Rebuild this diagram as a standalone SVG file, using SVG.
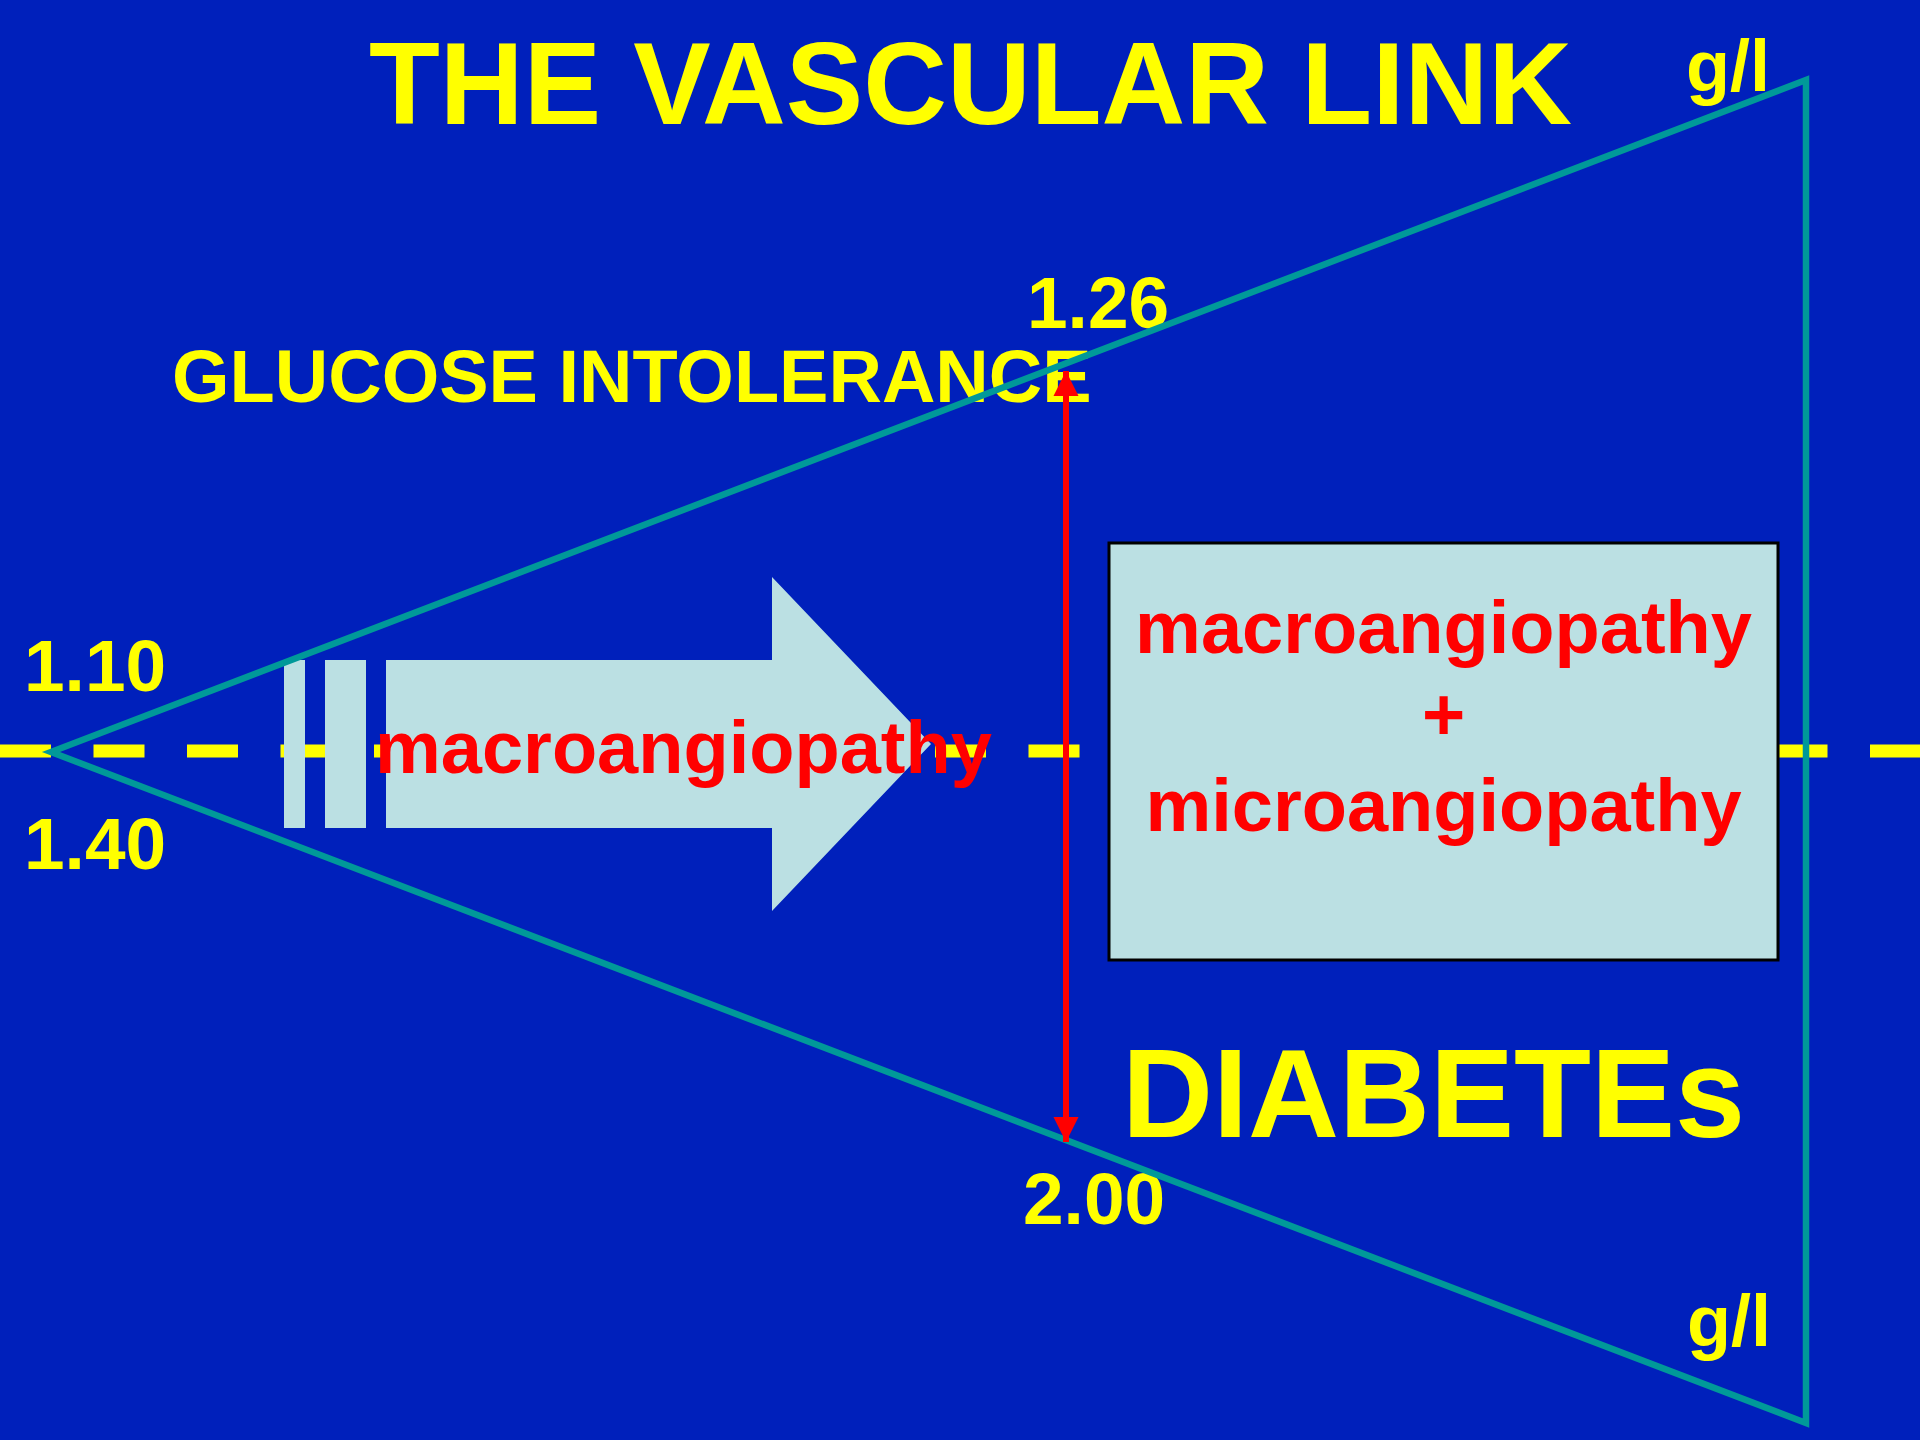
<svg xmlns="http://www.w3.org/2000/svg" width="1920" height="1440" viewBox="0 0 1920 1440">
<style>
.t{font-family:"Liberation Sans",Arial,sans-serif;font-weight:bold;}
.y{fill:#FFFF00;}
.r{fill:#FF0000;}
</style>
<defs>
<marker id="ah" viewBox="0 0 10 10" refX="10" refY="5" markerWidth="4.2" markerHeight="4.2" markerUnits="strokeWidth" orient="auto-start-reverse">
<path d="M0,0 L10,5 L0,10 z" fill="#FF0000"/>
</marker>
</defs>
<rect width="1920" height="1440" fill="#0020BB"/>
<g id="baseline">
<line x1="0" y1="751" x2="1920" y2="751" stroke="#FFFF00" stroke-width="13" stroke-dasharray="51 42.5"/>
</g>
<g id="arrow-macro">
<rect x="284" y="660" width="21" height="168" fill="#BBE0E3"/>
<rect x="325" y="660" width="41" height="168" fill="#BBE0E3"/>
<polygon points="386,660 772,660 772,577 931,744 772,911 772,828 386,828" fill="#BBE0E3"/>
<text class="t r" x="375" y="773" font-size="74">macroangiopathy</text>
</g>
<g id="box">
<rect x="1109" y="543" width="669" height="417" fill="#BBE0E3" stroke="#000" stroke-width="3"/>
<text class="t r" x="1443.5" y="653" font-size="74" text-anchor="middle">macroangiopathy</text>
<text class="t r" x="1443.5" y="740" font-size="74" text-anchor="middle">+</text>
<text class="t r" x="1443.5" y="831" font-size="74" text-anchor="middle">microangiopathy</text>
</g>
<g id="labels">
<text class="t y" x="369" y="124" font-size="116">THE VASCULAR LINK</text>
<text class="t y" x="1686" y="91" font-size="72">g/l</text>
<text class="t y" x="1027" y="328" font-size="73">1.26</text>
<text class="t y" x="172" y="402" font-size="74">GLUCOSE INTOLERANCE</text>
<text class="t y" x="24" y="691" font-size="73">1.10</text>
<text class="t y" x="24" y="869" font-size="73">1.40</text>
<text class="t y" x="1122" y="1137" font-size="126">DIABETEs</text>
<text class="t y" x="1023" y="1224" font-size="73">2.00</text>
<text class="t y" x="1687" y="1346" font-size="72">g/l</text>
</g>
<g id="connectors">
<polygon points="51,752 1806,80 1806,1423" fill="none" stroke="#009999" stroke-width="6.5"/>
<line x1="1066" y1="1142" x2="1066" y2="371" stroke="#FF0000" stroke-width="6" marker-start="url(#ah)" marker-end="url(#ah)"/>
</g>
</svg>
